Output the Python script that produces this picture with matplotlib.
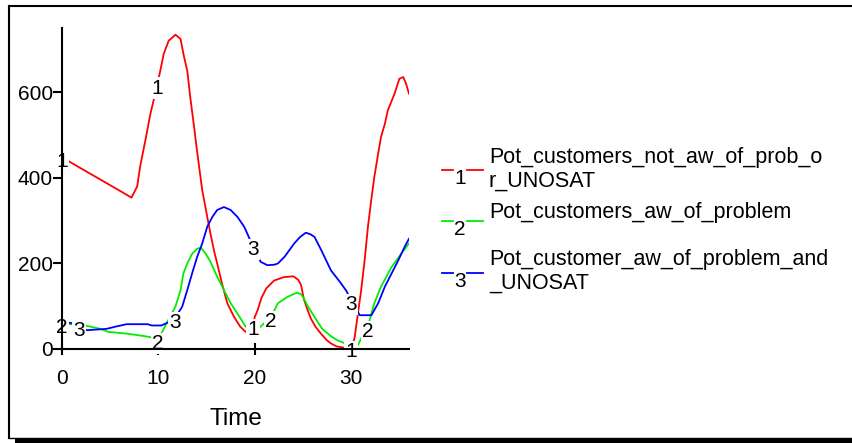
import matplotlib
matplotlib.use("Agg")
import matplotlib.pyplot as plt
from matplotlib.lines import Line2D
from matplotlib.patches import Rectangle
import numpy as np

plt.rcParams['font.family'] = ['Liberation Sans', 'DejaVu Sans']

# simulation output, one array pair per variable
t1 = [0, 0.7, 2, 4, 6, 7.2, 7.8, 8.1, 8.65, 9.17, 9.5, 9.86, 10.2, 10.55, 11.07,
      11.77, 12.3, 12.6, 13.0, 13.3, 13.7, 14.0, 14.55, 15.07, 15.4, 15.76, 16.1,
      16.6, 17.15, 17.85, 18.5, 19.06, 19.6, 20.0, 20.3, 20.7, 21.2, 22, 23, 24,
      24.5, 24.8, 25.1, 25.5, 25.8, 26.3, 26.9, 27.5, 27.9, 28.5, 29.3, 30.0,
      30.35, 30.7, 31.04, 31.4, 31.74, 32.08, 32.4, 32.8, 33.1, 33.5, 33.8, 34.5,
      35.0, 35.4, 35.7, 36.0]
pot_not_aw = [448, 439, 422, 396, 370, 354, 380, 426, 488, 550, 581, 616, 651, 690,
              721, 735, 725, 690, 650, 590, 520, 465, 371, 309, 270, 231, 200, 153,
              107, 75, 52, 40, 36, 75, 91, 120, 142, 160, 168, 170, 162, 150, 116,
              90, 72, 52, 35, 20, 13, 6, 3, 3, 25, 83, 138, 208, 286, 348, 402, 457,
              496, 527, 558, 597, 632, 636, 620, 597]

t2 = [0, 0.8, 2.6, 4.0, 4.8, 6.7, 8.6, 9.3, 9.9, 10.4, 10.8, 11.2, 11.77, 12.3,
      12.6, 13.0, 13.5, 14.0, 14.4, 14.9, 15.4, 16.1, 16.8, 17.5, 18.2, 19.06,
      19.6, 20.1, 20.6, 21.1, 21.7, 22.4, 23.4, 24.4, 24.8, 25.1, 25.5, 26.0,
      26.5, 27.0, 27.9, 28.6, 29.5, 30.0, 30.7, 31.04, 31.7, 32.4, 33.1, 34.2,
      35.2, 36.0]
pot_aw = [60, 58, 54, 47, 40, 36, 30, 27, 22, 40, 58, 75, 99, 138, 177, 200, 223,
          234, 237, 223, 204, 169, 138, 107, 83, 52, 45, 48, 52, 63, 75, 107, 122,
          132, 128, 118, 100, 82, 64, 47, 30, 20, 12, 6, 9, 25, 50, 107, 146, 192,
          223, 247]

t3 = [0, 0.94, 1.8, 2.57, 4.6, 5.5, 6.7, 8.9, 9.3, 10.3, 10.9, 11.6, 12.47, 13.0,
      13.5, 14.03, 14.55, 15.07, 15.6, 16.1, 16.8, 17.5, 18.2, 18.9, 19.6, 20.1,
      20.6, 21.3, 22.0, 22.4, 23.1, 24.1, 24.7, 25.3, 25.8, 26.2, 26.9, 27.9,
      28.96, 29.5, 30.2, 30.9, 32.1, 32.8, 33.5, 34.2, 34.9, 35.55, 36.0]
pot_aw_unosat = [62, 61, 52, 44, 47, 52, 58, 58, 55, 55, 61, 68, 99, 138, 177, 216,
                 247, 286, 309, 325, 332, 325, 309, 286, 251, 228, 204, 196, 197,
                 200, 216, 247, 262, 272, 268, 262, 231, 184, 153, 136, 105, 79, 79,
                 107, 146, 177, 208, 239, 258]

# where the line numbers sit along each curve
lab_t1 = [0, 9.9, 19.8, 30]
lab_t2 = [0, 9.9, 21.7, 31.7]
lab_t3 = [1.8, 11.7, 19.8, 30]

names = ["Pot_customers_not_aw_of_prob_o\nr_UNOSAT",
         "Pot_customers_aw_of_problem",
         "Pot_customer_aw_of_problem_and\n_UNOSAT"]
colors = ["#ff0000", "#00ee00", "#0000ff"]
yticks = [0, 200, 400, 600]
xticks = [0, 10, 20, 30]

W, H = 852, 443
fig = plt.figure(figsize=(W / 100, H / 100), dpi=100)
ax = fig.add_axes([62 / W, (H - 349) / H, 347 / W, 320.7 / H])

series = [(t1, pot_not_aw, lab_t1), (t2, pot_aw, lab_t2), (t3, pot_aw_unosat, lab_t3)]
for i, (t, v, lt) in enumerate(series):
    ax.plot(t, v, color=colors[i], lw=1.3, zorder=2)
    for tl in lt:
        yl = np.interp(tl, t, v)
        ax.annotate(str(i + 1), (tl, yl), xytext=(0, -3), textcoords="offset points",
                    ha="center", va="center", fontsize=15, zorder=2.2,
                    annotation_clip=False,
                    bbox=dict(boxstyle="square,pad=0.05", fc="white", ec="none"))

ax.set_xlim(0, 36)
ax.set_ylim(0, 750)
ax.set_xticks(xticks)
ax.set_yticks(yticks)
for s in ["top", "right"]:
    ax.spines[s].set_visible(False)
for s in ["left", "bottom"]:
    ax.spines[s].set_linewidth(1.5)
ax.tick_params(axis="x", direction="inout", length=9, width=1.5, labelsize=15, pad=10)
ax.tick_params(axis="y", direction="out", length=6.5, width=1.5, labelsize=15, pad=0)
ax.set_xlabel("Time", fontsize=17.5, labelpad=14)
ax.patch.set_alpha(0)

# legend drawn by hand: short line, number, line, variable name
def fx(px):
    return px / W

def fy(py):
    return 1 - py / H

legend_rows = [(170, 169.5), (221, 213), (273, 271.5)]
for i, (ly, ty) in enumerate(legend_rows):
    fig.add_artist(Line2D([fx(442), fx(453)], [fy(ly), fy(ly)], color=colors[i], lw=1.3))
    fig.add_artist(Line2D([fx(467), fx(483)], [fy(ly), fy(ly)], color=colors[i], lw=1.3))
    fig.text(fx(460), fy(ly - 1), str(i + 1), ha="center", va="top", fontsize=15)
    fig.text(fx(489), fy(ty), names[i], ha="left", va="center", fontsize=15.5,
             linespacing=1.15)

# outer frame with a drop shadow along the bottom
fig.add_artist(Line2D([fx(8.5), fx(8.5)], [fy(6), fy(438)], color="black", lw=1.5))
fig.add_artist(Line2D([fx(8.5), fx(852)], [fy(6), fy(6)], color="black", lw=1.5))
fig.add_artist(Line2D([fx(8.5), fx(852)], [fy(438), fy(438)], color="black", lw=1.0))
fig.add_artist(Rectangle((fx(15), 0), 1 - fx(15), fy(439), color="black", lw=0))

fig.savefig("out.png", dpi=100)
